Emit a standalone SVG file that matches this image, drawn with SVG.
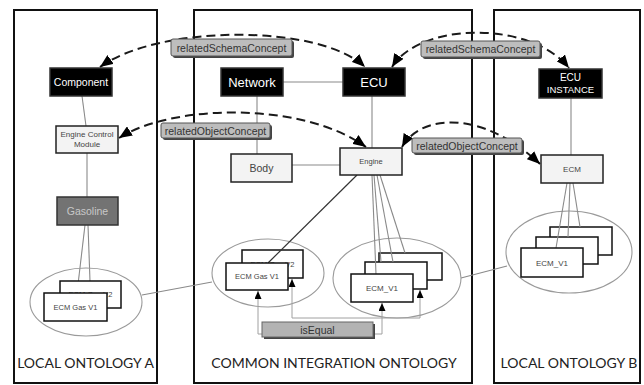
<svg xmlns="http://www.w3.org/2000/svg" width="644" height="385" viewBox="0 0 644 385">
  <style>
    .panel { fill: #fff; stroke: #111; stroke-width: 2; }
    .title { font-family: Lato, "Open Sans", sans-serif; font-size: 14px; fill: #222; text-anchor: middle; }
    .link { stroke: #8a8a8a; stroke-width: 1.1; fill: none; }
    .dark { stroke: #333; stroke-width: 1.2; fill: none; }
    .group { fill: none; stroke: #9a9a9a; stroke-width: 1.1; }
    .blk { fill: #000; stroke: #333; stroke-width: 1.5; }
    .lite { fill: #f3f3f3; stroke: #222; stroke-width: 1.5; }
    .inst { fill: #fff; stroke: #111; stroke-width: 1.5; }
    .wt { font-family: "Liberation Sans", Arial, sans-serif; fill: #fff; text-anchor: middle; }
    .gt { font-family: "Liberation Sans", Arial, sans-serif; fill: #444; text-anchor: middle; }
    .rel { fill: none; stroke: #1a1a1a; stroke-width: 2; stroke-dasharray: 9 5; }
    .tagshadow { fill: #444; }
    .tag { fill: #bdbdbd; stroke: #555; stroke-width: 1; }
    .tagt { font-family: "Liberation Sans", Arial, sans-serif; font-size: 10.5px; fill: #333; text-anchor: middle; }
    .eq { fill: none; stroke: #a0a0a0; stroke-width: 1; }
  </style>
  <defs>
    <marker id="bigArrow" viewBox="0 0 12 10" refX="12" refY="5" markerWidth="13" markerHeight="11" markerUnits="userSpaceOnUse" orient="auto-start-reverse">
      <path d="M0,0 L12,5 L0,10 z" fill="#000"/>
    </marker>
    <marker id="smallArrow" viewBox="0 0 8 7" refX="8" refY="3.5" markerWidth="8" markerHeight="7" markerUnits="userSpaceOnUse" orient="auto">
      <path d="M0,0 L8,3.5 L0,7 z" fill="#000"/>
    </marker>
  </defs>

  <!-- ontology panels -->
  <g id="panels">
    <rect class="panel" x="14" y="10" width="143" height="373"/>
    <rect class="panel" x="194" y="10" width="278" height="373"/>
    <rect class="panel" x="494" y="10" width="146" height="373"/>
    <text class="title" x="85.5" y="368">LOCAL ONTOLOGY A</text>
    <text class="title" x="334" y="368">COMMON INTEGRATION ONTOLOGY</text>
    <text class="title" x="569" y="368">LOCAL ONTOLOGY B</text>
  </g>

  <!-- solid connectors -->
  <g id="connectors">
    <line class="link" x1="82" y1="96" x2="86" y2="126"/>
    <line class="link" x1="87" y1="153" x2="87" y2="197"/>
    <line class="link" x1="85" y1="225" x2="77" y2="293"/>
    <line class="link" x1="88" y1="225" x2="90" y2="281"/>
    <line class="link" x1="283" y1="82" x2="343" y2="82"/>
    <line class="link" x1="257" y1="96" x2="257" y2="154"/>
    <line class="link" x1="372" y1="96" x2="372" y2="148"/>
    <line class="link" x1="292" y1="165" x2="340" y2="165"/>
    <line class="link" x1="571" y1="98" x2="571" y2="155"/>
    <line class="link" x1="142" y1="295" x2="212" y2="282"/>
    <line class="link" x1="461" y1="278" x2="507" y2="266"/>
  </g>

  <!-- instance groups -->
  <g id="group-a">
    <ellipse class="group" cx="86" cy="302" rx="56" ry="34"/>
    <rect class="inst" x="60" y="281" width="61" height="27"/>
    <text class="gt" x="90.5" y="297" font-size="7.5">ECM Gas V2</text>
    <rect class="inst" x="44" y="293" width="63" height="28"/>
    <text class="gt" x="75.5" y="310" font-size="7.5">ECM Gas V1</text>
  </g>

  <g id="group-common-gas">
    <ellipse class="group" cx="268" cy="273" rx="56" ry="34"/>
    <rect class="inst" x="242" y="250" width="61" height="28"/>
    <text class="gt" x="272.5" y="267" font-size="7.5">ECM Gas V2</text>
    <line class="dark" x1="357" y1="175" x2="268" y2="263"/>
    <rect class="inst" x="226" y="263" width="62" height="27"/>
    <text class="gt" x="257" y="279" font-size="7.5">ECM Gas V1</text>
  </g>

  <g id="group-common-ecm">
    <ellipse class="group" cx="397" cy="278" rx="64" ry="40"/>
    <rect class="inst" x="379" y="253" width="63" height="27"/>
    <text class="gt" x="410.5" y="270" font-size="8">ECM_V3</text>
    <rect class="inst" x="365" y="262" width="62" height="27"/>
    <text class="gt" x="396" y="279" font-size="8">ECM_V2</text>
    <line class="link" x1="372" y1="175" x2="376" y2="274"/>
    <line class="link" x1="374" y1="175" x2="381" y2="262"/>
    <line class="link" x1="377" y1="175" x2="393" y2="262"/>
    <line class="link" x1="380" y1="175" x2="405" y2="253"/>
    <rect class="inst" x="351" y="274" width="62" height="28"/>
    <text class="gt" x="382" y="291" font-size="8">ECM_V1</text>
  </g>

  <g id="group-b">
    <ellipse class="group" cx="569" cy="252" rx="63" ry="41"/>
    <rect class="inst" x="550" y="227" width="62" height="28"/>
    <text class="gt" x="581" y="244" font-size="8">ECM_V3</text>
    <rect class="inst" x="536" y="237" width="62" height="27"/>
    <text class="gt" x="567" y="254" font-size="8">ECM_V2</text>
    <line class="link" x1="567" y1="183" x2="556" y2="248"/>
    <line class="link" x1="570" y1="183" x2="568" y2="237"/>
    <line class="link" x1="573" y1="183" x2="580" y2="227"/>
    <rect class="inst" x="521" y="248" width="62" height="29"/>
    <text class="gt" x="552" y="266" font-size="8">ECM_V1</text>
  </g>

  <!-- concept nodes -->
  <g id="component">
    <rect class="blk" x="50" y="68" width="62" height="28"/>
    <text class="wt" x="81" y="86" font-size="10.5">Component</text>
  </g>
  <g id="engine-control-module">
    <rect class="lite" x="56" y="126" width="62" height="27"/>
    <text class="gt" x="87" y="137" font-size="8">Engine Control</text>
    <text class="gt" x="87" y="147" font-size="8">Module</text>
  </g>
  <g id="gasoline">
    <rect x="57" y="197" width="61" height="28" fill="#737373" stroke="#333" stroke-width="1.5"/>
    <text x="87.5" y="215" font-size="10.5" font-family="Liberation Sans, Arial, sans-serif" fill="#c8c8c8" text-anchor="middle">Gasoline</text>
  </g>
  <g id="network">
    <rect class="blk" x="221" y="68" width="62" height="28"/>
    <text class="wt" x="252" y="87" font-size="13">Network</text>
  </g>
  <g id="ecu">
    <rect class="blk" x="343" y="68" width="62" height="28"/>
    <text class="wt" x="374" y="87" font-size="13">ECU</text>
  </g>
  <g id="body">
    <rect class="lite" x="231" y="154" width="61" height="28"/>
    <text class="gt" x="261.5" y="172" font-size="10.5" fill="#333">Body</text>
  </g>
  <g id="engine">
    <rect class="lite" x="340" y="148" width="62" height="27"/>
    <text class="gt" x="371" y="164" font-size="7.5">Engine</text>
  </g>
  <g id="ecu-instance">
    <rect class="blk" x="539" y="69" width="63" height="29"/>
    <text class="wt" x="570.5" y="81" font-size="10">ECU</text>
    <text class="wt" x="570.5" y="93" font-size="9.5">INSTANCE</text>
  </g>
  <g id="ecm">
    <rect class="lite" x="541" y="155" width="62" height="28"/>
    <text class="gt" x="572" y="172" font-size="8">ECM</text>
  </g>

  <!-- mapping relations -->
  <g id="relations">
    <path class="rel" d="M100,67 C160,24 320,24 365,67" marker-start="url(#bigArrow)" marker-end="url(#bigArrow)"/>
    <path class="rel" d="M392,67 C420,22 530,20 569,68" marker-start="url(#bigArrow)" marker-end="url(#bigArrow)"/>
    <path class="rel" d="M119,138 C170,105 300,100 366,147" marker-start="url(#bigArrow)" marker-end="url(#bigArrow)"/>
    <path class="rel" d="M402,147 C420,115 480,108 540,164" marker-start="url(#bigArrow)" marker-end="url(#bigArrow)"/>

    <path class="eq" d="M262,334 H258 V291" marker-end="url(#smallArrow)"/>
    <path class="eq" d="M292,318 V279" marker-end="url(#smallArrow)"/>
    <path class="eq" d="M292,318 H420 V290" marker-end="url(#smallArrow)"/>
    <path class="eq" d="M373,334 H382 V303" marker-end="url(#smallArrow)"/>
  </g>

  <!-- relation labels -->
  <g id="label-schema-left">
    <rect class="tagshadow" x="173" y="41" width="121" height="17" rx="2"/>
    <rect class="tag" x="171" y="39" width="121" height="17" rx="2"/>
    <text class="tagt" x="231.5" y="51.5">relatedSchemaConcept</text>
  </g>
  <g id="label-schema-right">
    <rect class="tagshadow" x="423" y="43" width="119" height="16" rx="2"/>
    <rect class="tag" x="421" y="41" width="119" height="16" rx="2"/>
    <text class="tagt" x="480.5" y="53">relatedSchemaConcept</text>
  </g>
  <g id="label-object-left">
    <rect class="tagshadow" x="163" y="125" width="109" height="15" rx="2"/>
    <rect class="tag" x="161" y="123" width="109" height="15" rx="2"/>
    <text class="tagt" x="215.5" y="134.5">relatedObjectConcept</text>
  </g>
  <g id="label-object-right">
    <rect class="tagshadow" x="414" y="140" width="110" height="15" rx="2"/>
    <rect class="tag" x="412" y="138" width="110" height="15" rx="2"/>
    <text class="tagt" x="467" y="149.5">relatedObjectConcept</text>
  </g>
  <g id="label-isequal">
    <rect class="tagshadow" x="264" y="324" width="111" height="15"/>
    <rect x="262" y="322" width="111" height="15" fill="#b3b3b3" stroke="#666" stroke-width="1"/>
    <text class="tagt" x="317.5" y="333.5" font-size="11">isEqual</text>
  </g>
</svg>
